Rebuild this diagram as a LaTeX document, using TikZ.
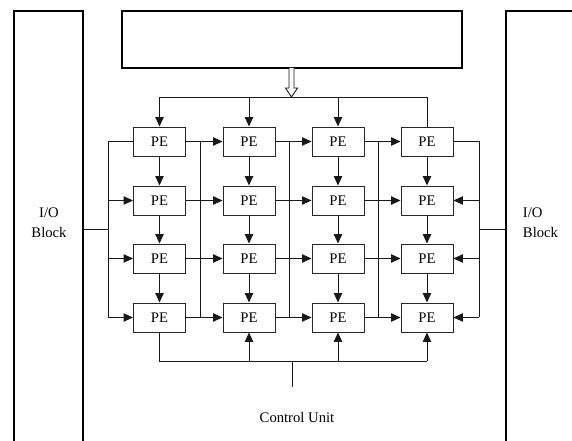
\documentclass[tikz,border=0pt]{standalone}
\usepackage{fontspec}
\setmainfont{Liberation Serif}
\usetikzlibrary{arrows.meta}
\begin{document}
\begin{tikzpicture}[x=0.75pt,y=-0.75pt,
  pe/.style={draw=black!85, line width=0.7pt, minimum width=39pt, minimum height=21.75pt,
             inner sep=0pt, font=\fontsize{11}{13}\selectfont},
  wire/.style={line width=0.7pt, draw=black!90},
  arr/.style={wire, -{Triangle[length=7pt,width=6.2pt]}},
  frame/.style={line width=1.1pt, draw=black},
  lbl/.style={font=\fontsize{11}{15}\selectfont, inner sep=0pt, align=center}]
\useasboundingbox (0,0) rectangle (572,441);

% I/O blocks on both sides (open at the bottom / right edge)
\draw[frame] (14,442) -- (14,11) -- (83,11) -- (83,442);
\draw[frame] (506,442) -- (506,11) -- (573,11);
\node[lbl] (iol) at (49,223) {I/O\\Block};
\node[lbl, align=left, anchor=west] (ior) at (522.7,223) {I/O\\Block};

% top memory box
\node[frame, minimum width=255pt, minimum height=42.75pt, inner sep=0pt] (mem) at (292,39.5) {};

% PE array
\foreach \r/\y in {1/141.5,2/200.5,3/258.5,4/317.5}
  \foreach \c/\x in {1/159.5,2/249,3/338,4/427}
    \node[pe] (p\r\c) at (\x,\y) {PE};

% vertical links inside each column
\foreach \c in {1,...,4}
  \foreach \r/\n in {1/2,2/3,3/4}
    \draw[arr] (p\r\c.south) -- (p\n\c.north);

% horizontal links inside each row
\foreach \r in {1,...,4}
  \foreach \c/\n in {1/2,2/3,3/4}
    \draw[arr] (p\r\c.east) -- (p\r\n.west);

% vertical lines between columns
\foreach \x in {200,289,378}
  \draw[wire] (\x,141.5) -- (\x,317.5);

% left loop
\coordinate (lbus) at (108,141.5);
\draw[wire] (p11.west) -- (lbus) -- (lbus |- p41.west);
\foreach \r in {2,3,4}
  \draw[arr] (lbus |- p\r1.west) -- (p\r1.west);
\draw[wire] (83,229) -- (lbus |- 0,229);

% right loop
\coordinate (rbus) at (479,141.5);
\draw[wire] (p14.east) -- (rbus) -- (rbus |- p44.east);
\foreach \r in {2,3,4}
  \draw[arr] (rbus |- p\r4.east) -- (p\r4.east);
\draw[wire] (rbus |- 0,229) -- (506,229);

% top bus with hollow arrow from the memory box
\coordinate (tb) at (0,97);
\draw[wire] (tb -| p11.north) -- (tb -| p14.north) -- (p14.north);
\foreach \c in {1,2,3}
  \draw[arr] (tb -| p1\c.north) -- (p1\c.north);
\draw[wire, fill=white] (289,68) -- (289,88) -- (285.5,88) -- (291.5,97)
  -- (297.5,88) -- (294,88) -- (294,68);

% bottom bus to the control unit
\coordinate (bb) at (0,361);
\draw[wire] (p41.south) -- (bb -| p41.south) -- (bb -| p44.south);
\foreach \c in {2,3,4}
  \draw[arr] (bb -| p4\c.south) -- (p4\c.south);
\coordinate (cs) at (292.7,361);
\draw[wire] (cs) -- ++(0,26);
\node[lbl] (cu) at (297,417) {Control Unit};
\end{tikzpicture}
\end{document}
